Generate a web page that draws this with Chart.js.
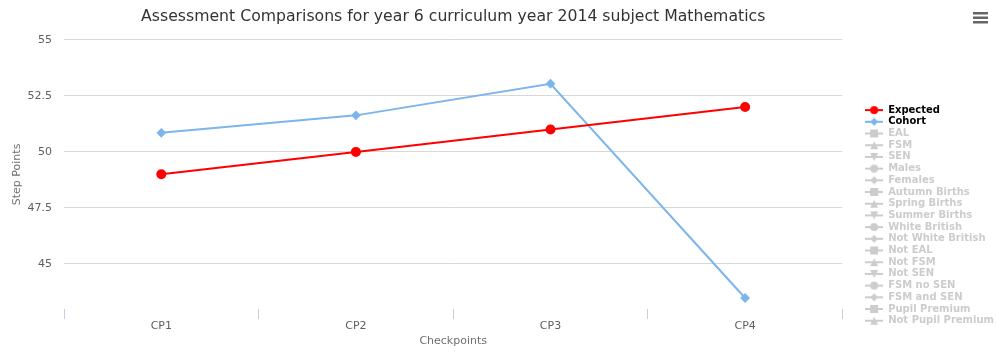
<!DOCTYPE html>
<html>
<head>
<meta charset="utf-8">
<script src="https://cdn.jsdelivr.net/npm/chart.js@4.4.1/dist/chart.umd.min.js"></script>
<style>
  html, body { margin: 0; padding: 0; background: #fff; }
  #wrap { width: 997px; height: 355px; position: relative; }
</style>
</head>
<body>
<div id="wrap"><canvas id="c" width="997" height="355"></canvas></div>
<script>
const categories = ['CP1', 'CP2', 'CP3', 'CP4'];
const expectedValues = [49, 50, 51, 52];
const cohortValues = [50.85, 51.63, 53.04, 43.48];
const yTickValues = [45, 47.5, 50, 52.5, 55];
const hiddenSeriesNames = ['EAL', 'FSM', 'SEN', 'Males', 'Females', 'Autumn Births', 'Spring Births',
  'Summer Births', 'White British', 'Not White British', 'Not EAL', 'Not FSM', 'Not SEN',
  'FSM no SEN', 'FSM and SEN', 'Pupil Premium', 'Not Pupil Premium'];
const symbolCycle = ['circle', 'diamond', 'square', 'triangle', 'triangle-down'];

const FONT = '"DejaVu Sans", "Lucida Grande", Verdana, sans-serif';

function makeIcon(color, symbol) {
  const c = document.createElement('canvas');
  c.width = 18; c.height = 10;
  const g = c.getContext('2d');
  g.strokeStyle = color; g.fillStyle = color; g.lineWidth = 2;
  g.beginPath(); g.moveTo(0, 5); g.lineTo(18, 5); g.stroke();
  const cx = 9, cy = 5, r = 4;
  g.beginPath();
  if (symbol === 'circle') { g.arc(cx, cy, r, 0, Math.PI * 2); }
  else if (symbol === 'diamond') { g.moveTo(cx, cy - r); g.lineTo(cx + r, cy); g.lineTo(cx, cy + r); g.lineTo(cx - r, cy); g.closePath(); }
  else if (symbol === 'square') { g.rect(cx - r, cy - r, 2 * r, 2 * r); }
  else if (symbol === 'triangle') { g.moveTo(cx, cy - r); g.lineTo(cx + r, cy + r); g.lineTo(cx - r, cy + r); g.closePath(); }
  else { g.moveTo(cx - r, cy - r); g.lineTo(cx + r, cy - r); g.lineTo(cx, cy + r); g.closePath(); }
  g.fill();
  return c;
}

const datasets = [
  { label: 'Expected', data: expectedValues, borderColor: '#ff0000', backgroundColor: '#ff0000',
    borderWidth: 2, pointStyle: 'circle', pointRadius: 4, pointHoverRadius: 5, tension: 0,
    _icon: makeIcon('#ff0000', 'circle'), _color: '#000000' },
  { label: 'Cohort', data: cohortValues, borderColor: '#7cb5ec', backgroundColor: '#7cb5ec',
    borderWidth: 2, pointStyle: 'rectRot', pointRadius: 3.5, pointHoverRadius: 5, tension: 0,
    _icon: makeIcon('#7cb5ec', 'diamond'), _color: '#000000' }
];
hiddenSeriesNames.forEach((name, i) => {
  datasets.push({ label: name, data: [], hidden: true, borderColor: '#cccccc', backgroundColor: '#cccccc',
    _icon: makeIcon('#cccccc', symbolCycle[(i + 2) % 5]), _color: '#cccccc' });
});

const LEGEND_SHIFT = 21;
const menuIcon = {
  id: 'menuIcon',
  afterLayout(chart) {
    const l = chart.legend;
    if (l) { l.left += LEGEND_SHIFT; l.right += LEGEND_SHIFT; }
  },
  afterDraw(chart) {
    const g = chart.ctx;
    g.save();
    g.fillStyle = '#666666';
    [12, 16.5, 21].forEach(y => g.fillRect(973, y, 15, 2.5));
    g.restore();
  }
};

new Chart(document.getElementById('c'), {
  type: 'line',
  data: { labels: categories, datasets },
  plugins: [menuIcon],
  options: {
    responsive: false,
    animation: false,
    layout: { padding: { left: 0, right: 14, top: 0, bottom: 0 } },
    plugins: {
      title: {
        display: true, fullSize: false,
        text: 'Assessment Comparisons for year 6 curriculum year 2014 subject Mathematics',
        color: '#333333', font: { family: FONT, size: 15.7, weight: 'normal' },
        padding: { top: 8, bottom: 13 }
      },
      legend: {
        position: 'right', align: 'start',
        title: { display: true, text: ' ', padding: { top: 101, bottom: 0 }, font: { size: 2 } },
        onClick: null,
        labels: {
          usePointStyle: true, pointStyleWidth: 18, padding: 1.7,
          font: { family: FONT, size: 10, weight: 'bold', lineHeight: 1 },
          generateLabels(chart) {
            return chart.data.datasets.map((ds, i) => ({
              text: ds.label, datasetIndex: i, hidden: false,
              pointStyle: ds._icon, fontColor: ds._color,
              fillStyle: ds.borderColor, strokeStyle: ds.borderColor, lineWidth: 0
            }));
          }
        }
      },
      tooltip: { enabled: false }
    },
    scales: {
      x: {
        offset: true,
        grid: { offset: true, drawOnChartArea: false, drawTicks: true, tickLength: 10, color: '#C0D0E0' },
        border: { display: false },
        ticks: { color: '#606060', font: { family: FONT, size: 11 }, padding: 1 },
        title: { display: true, text: 'Checkpoints', color: '#707070', font: { family: FONT, size: 11 }, padding: { top: 0, bottom: 7 } },
        afterFit(s) { s.height = 46; }
      },
      y: {
        min: 42.99, max: 55,
        afterBuildTicks(axis) { axis.ticks = yTickValues.map(v => ({ value: v })); },
        grid: { color: '#D8D8D8', drawTicks: false },
        border: { display: false },
        ticks: { color: '#606060', font: { family: FONT, size: 11 }, padding: 12 },
        title: { display: true, text: 'Step Points', color: '#707070', font: { family: FONT, size: 11 }, padding: { top: 11, bottom: 0 } },
        afterFit(s) { s.width = 64; }
      }
    }
  }
});
</script>
</body>
</html>
